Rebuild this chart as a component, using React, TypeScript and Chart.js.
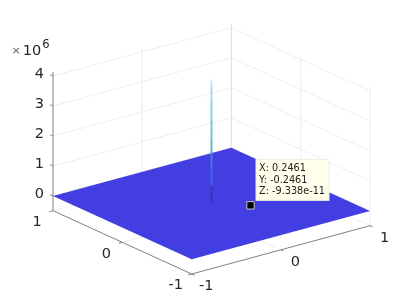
import React, { useEffect, useRef } from "react";
import { Chart, registerables } from "chart.js";

Chart.register(...registerables);

const xTicks = [-1, 0, 1];
const yTicks = [-1, 0, 1];
const zTicks = [0, 1, 2, 3, 4];
const zRange = [-0.49, 4.13];
const surfaceX = [-1, 1, 1, -1];
const surfaceY = [-1, -1, 1, 1];
const surfaceZ = [0, 0, 0, 0];
const spikeZ = [4.13, 3.9, 3.4, 2.8, 2.2, 1.75, 1.65, 1.2, 0.62, 0.55, 0.1, 0.0];
const spikeColors = ["#bfeaf4", "#93dcee", "#7fd0e6", "#62c4dc", "#4ab8d2", "#3f9fdc", "#4080e4", "#4068e0", "#3a44c8", "#3433a8", "#3c36b8"];
const cursor = { x: 0.2461, y: -0.2461, z: -9.338e-11 };
const cursorLines = ["X: 0.2461", "Y: -0.2461", "Z: -9.338e-11"];

const project = (x: number, y: number, z: number) => ({
  x: 211.5 + 89.15 * x - 69.35 * y,
  y: 203.5 - 24.15 * x - 31.65 * y - 30 * z,
});

const line = (pts: number[][], color: string, width = 1) => ({
  data: pts.map((p) => project(p[0], p[1], p[2])),
  showLine: true,
  borderColor: color,
  borderWidth: width,
  pointRadius: 0,
  fill: false,
  tension: 0,
});

const GRID = "#eeeeee";
const GRID_EDGE = "#dcdcdc";
const AXIS = "#808080";
const TEXT = "#262626";
const FONT = "DejaVu Sans";
const [zLo, zHi] = zRange;

function buildDatasets() {
  const sets: any[] = [];
  // floor grid
  sets.push(line([[0, -1, zLo], [0, 1, zLo]], GRID));
  sets.push(line([[-1, 0, zLo], [1, 0, zLo]], GRID));
  // back-wall horizontal lines
  zTicks.forEach((z) => {
    sets.push(line([[-1, 1, z], [1, 1, z]], GRID));
    sets.push(line([[1, 1, z], [1, -1, z]], GRID));
  });
  // back-wall vertical lines
  sets.push(line([[0, 1, zLo], [0, 1, zHi]], GRID));
  sets.push(line([[1, 0, zLo], [1, 0, zHi]], GRID));
  sets.push(line([[1, -1, zLo], [1, -1, zHi]], GRID));
  sets.push(line([[1, 1, zLo], [1, 1, zHi]], GRID_EDGE));
  sets.push(line([[-1, 1, zLo], [1, 1, zLo]], GRID));
  sets.push(line([[1, 1, zLo], [1, -1, zLo]], GRID));
  // axes
  sets.push(line([[-1, -1, zLo], [1, -1, zLo]], AXIS));
  sets.push(line([[-1, 1, zLo], [-1, -1, zLo]], AXIS));
  sets.push(line([[-1, 1, zLo], [-1, 1, zHi]], AXIS));
  // ticks
  const t = 0.04;
  xTicks.forEach((x) => sets.push(line([[x, -1, zLo], [x, -1 - t, zLo]], AXIS)));
  yTicks.forEach((y) => sets.push(line([[-1, y, zLo], [-1 - t, y, zLo]], AXIS)));
  zTicks.forEach((z) => sets.push(line([[-1, 1, z], [-1, 1 + t, z]], AXIS)));
  // surface
  sets.push({
    data: surfaceX.map((x, i) => project(x, surfaceY[i], surfaceZ[i])),
    showLine: true,
    borderWidth: 0,
    borderColor: "#433ee2",
    backgroundColor: "#433ee2",
    pointRadius: 0,
    fill: "shape",
    tension: 0,
  });
  // spike
  sets.push({
    data: spikeZ.map((z) => project(0, 0, z)),
    showLine: true,
    borderWidth: 1.8,
    borderColor: spikeColors[0],
    pointRadius: 0,
    fill: false,
    tension: 0,
    segment: { borderColor: (c: any) => spikeColors[c.p0DataIndex] },
  });
  // data cursor
  sets.push({
    data: [project(cursor.x, cursor.y, cursor.z)],
    showLine: false,
    pointStyle: "rect",
    pointRadius: 5.2,
    backgroundColor: "#000000",
    borderColor: "#c4c4c4",
    borderWidth: 1,
  });
  // Chart.js paints the first dataset last
  return sets.reverse();
}

const textPlugin = {
  id: "labels",
  afterDatasetsDraw(chart: any) {
    const { ctx, scales } = chart;
    const sx = (v: number) => scales.x.getPixelForValue(v);
    const sy = (v: number) => scales.y.getPixelForValue(v);
    const put = (s: string, px: number, py: number, size = 14.5, color = TEXT, align: CanvasTextAlign = "center") => {
      ctx.font = `${size}px "${FONT}"`;
      ctx.fillStyle = color;
      ctx.textAlign = align;
      ctx.textBaseline = "middle";
      ctx.fillText(s, px, py);
    };
    ctx.save();
    zTicks.forEach((z) => {
      const p = project(-1, 1, z);
      put(String(z), sx(p.x) - 9, sy(p.y) - 2, 14.5, TEXT, "right");
    });
    yTicks.forEach((y) => {
      const p = project(-1, y, zLo);
      put(String(y), sx(p.x) - 16, sy(p.y) + 11.5);
    });
    xTicks.forEach((x) => {
      const p = project(x, -1, zLo);
      put(String(x), sx(p.x) + 14.5, sy(p.y) + 12.5);
    });
    // exponent
    const top = project(-1, 1, zHi);
    put("×", sx(top.x) - 37, sy(top.y) - 21, 11, "#666666");
    put("10", sx(top.x) - 21, sy(top.y) - 21, 14.5);
    put("6", sx(top.x) - 7, sy(top.y) - 27.5, 11.5);
    // data tip
    const c = project(cursor.x, cursor.y, cursor.z);
    const bx = sx(c.x) + 5.5;
    const by = sy(c.y) - 46;
    ctx.fillStyle = "#ffffec";
    ctx.strokeStyle = "#eeeedd";
    ctx.lineWidth = 1;
    ctx.fillRect(bx, by, 73, 41);
    ctx.strokeRect(bx, by, 73, 41);
    cursorLines.forEach((s, i) => put(s, bx + 3, by + 9.5 + i * 11.5, 9.7, "#222222", "left"));
    ctx.restore();
  },
};

export default function App() {
  const ref = useRef<HTMLCanvasElement>(null);
  useEffect(() => {
    const chart = new Chart(ref.current!, {
      type: "scatter",
      data: { datasets: buildDatasets() },
      plugins: [textPlugin],
      options: {
        animation: false,
        responsive: false,
        layout: { padding: 0, autoPadding: false },
        plugins: { legend: { display: false }, tooltip: { enabled: false } },
        scales: {
          x: { type: "linear", display: false, min: 0, max: 409 },
          y: { type: "linear", display: false, min: 0, max: 307, reverse: true },
        },
      },
    } as any);
    return () => chart.destroy();
  }, []);
  return (
    <div style={{ position: "fixed", left: 0, top: 0, width: 409, height: 307 }}>
      <canvas ref={ref} width={409} height={307} style={{ display: "block" }} />
    </div>
  );
}
